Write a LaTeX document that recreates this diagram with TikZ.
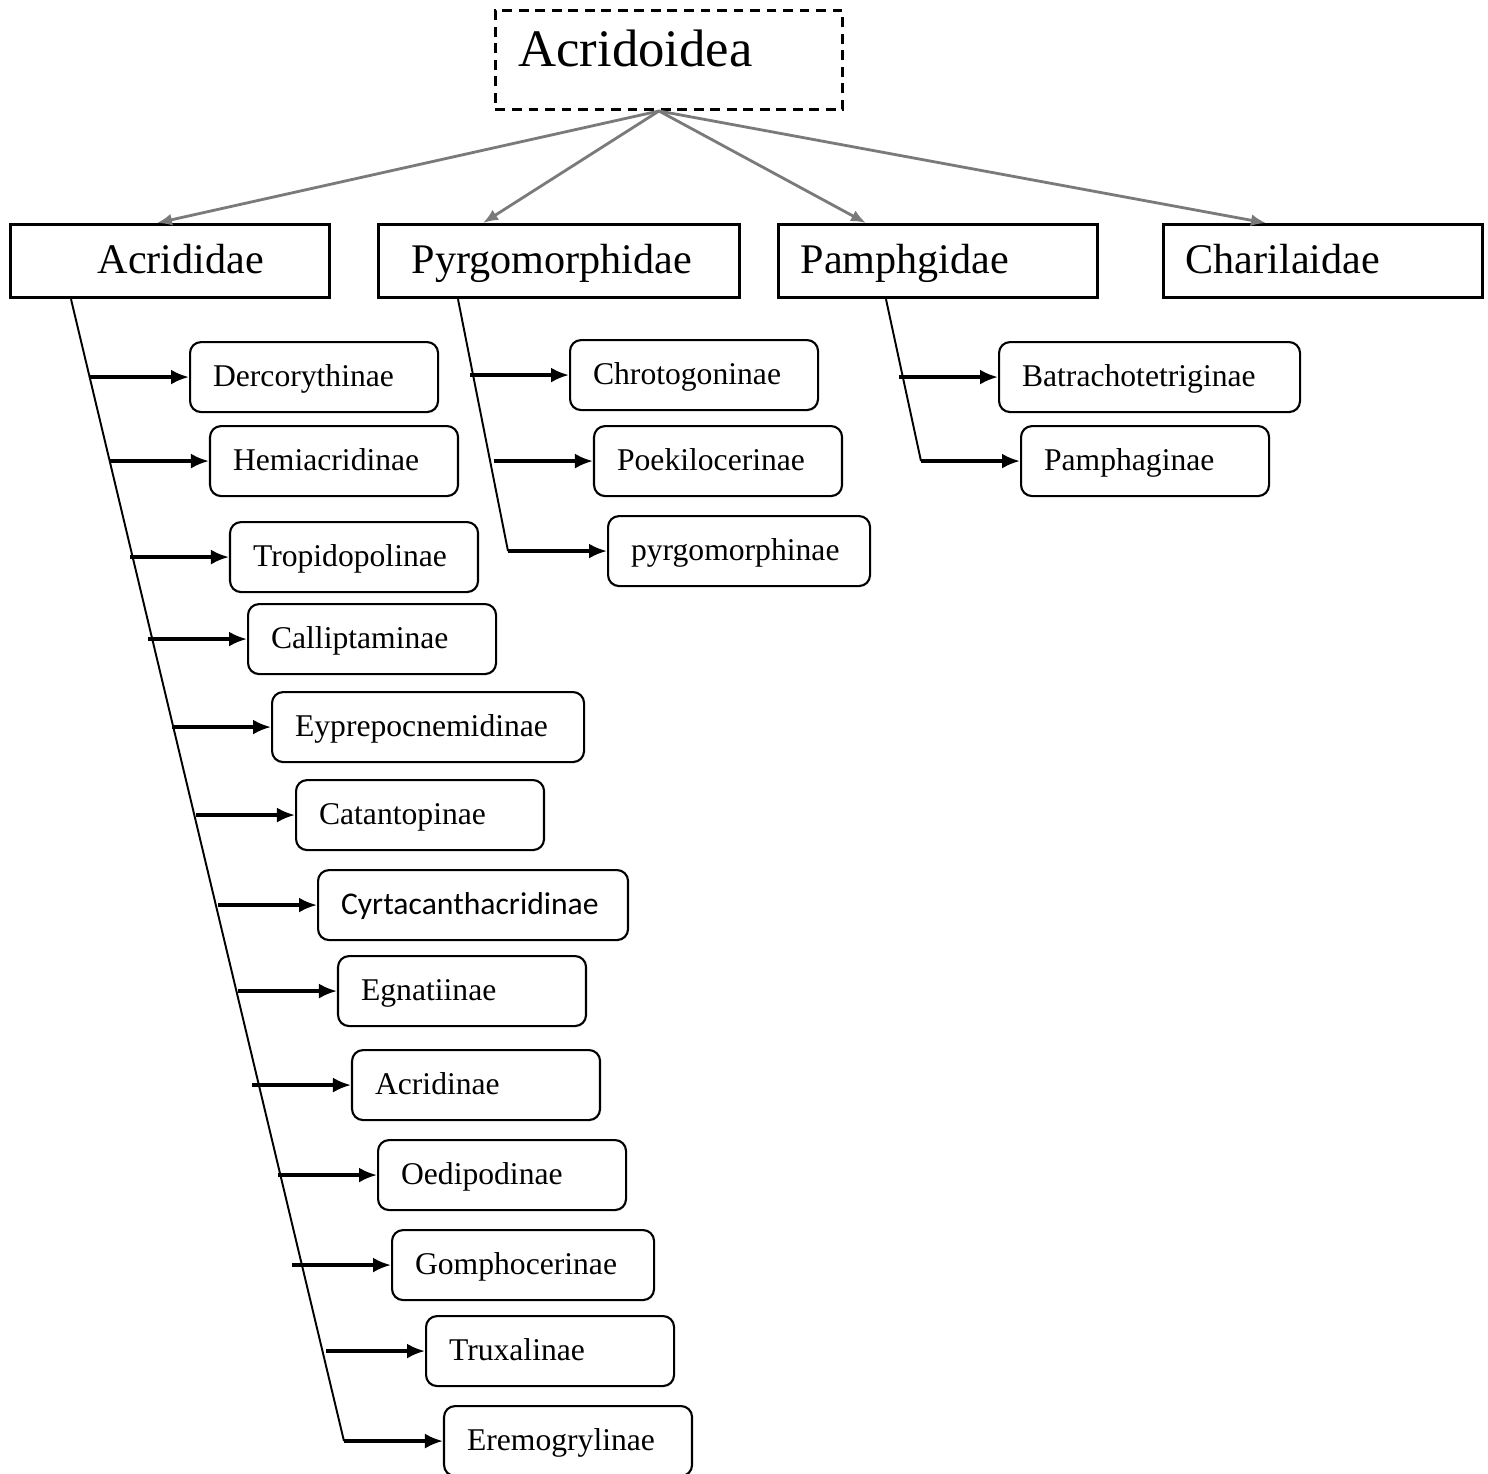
\documentclass[tikz,border=0pt]{standalone}
\usepackage{fontspec}
\setmainfont{Liberation Serif}
\newfontfamily\calfont{Carlito}
\usetikzlibrary{arrows.meta}
\tikzset{
 topbox/.style={draw,dash pattern=on 2.8pt off 1.9pt,line width=0.85pt,anchor=north west,minimum height=0.99cm,inner xsep=0.23cm,text width=3.01cm,text height=0.6em,text depth=0.22em,align=left,font=\fontsize{15}{18}\selectfont},
 fam/.style={draw,line width=0.9pt,anchor=north west,minimum height=0.73cm,inner xsep=0.22cm,text height=0.9em,text depth=0.17em,align=left,font=\fontsize{12}{14}\selectfont},
 sub/.style={draw,line width=0.6pt,rounded corners=1.1mm,anchor=north west,minimum height=0.70cm,inner xsep=0.23cm,text height=0.72em,text depth=0.2em,align=left,font=\fontsize{9}{11}\selectfont},
 famarr/.style={draw=black!52,line width=0.8pt,-{Latex[length=1.5mm,width=1.2mm]}},
 subarr/.style={line width=0.95pt,-{Latex[length=1.8mm,width=1.5mm]}},
 spine/.style={line width=0.55pt}
}
\begin{document}
\begin{tikzpicture}
 \useasboundingbox (0,0) rectangle (14.88,-14.74);
 \node[topbox] (top) at (4.94,-0.09) {Acridoidea};
 \node[fam,text width=2.75cm] (acr) at (0.09,-2.23) {\hspace*{0.65cm}Acrididae};
 \node[fam,text width=3.17cm] (pyr) at (3.77,-2.23) {\hspace*{0.11cm}Pyrgomorphidae};
 \node[fam,text width=2.75cm] (pam) at (7.77,-2.23) {Pamphgidae};
 \node[fam,text width=2.75cm] (cha) at (11.62,-2.23) {Charilaidae};
 \draw[famarr] ([xshift=-0.1cm]top.south) -- ([xshift=1.48cm]acr.north west);
 \draw[famarr] ([xshift=-0.1cm]top.south) -- ([xshift=1.06cm]pyr.north west);
 \draw[famarr] ([xshift=-0.1cm]top.south) -- ([xshift=0.89cm]pam.north west);
 \draw[famarr] ([xshift=-0.1cm]top.south) -- ([xshift=1.04cm]cha.north west);
 % Acrididae
 \foreach \t/\l/\u/\w [count=\i] in {Dercorythinae/1.89/3.41/2.02,Hemiacridinae/2.09/4.25/2.02,Tropidopolinae/2.29/5.21/2.02,
  Calliptaminae/2.47/6.03/2.02,Eyprepocnemidinae/2.71/6.91/2.66,Catantopinae/2.95/7.79/2.02,{\calfont Cyrtacanthacridinae}/3.17/8.69/2.64,
  Egnatiinae/3.37/9.55/2.02,Acridinae/3.51/10.49/2.02,Oedipodinae/3.77/11.39/2.02,Gomphocerinae/3.91/12.29/2.16,
  Truxalinae/4.25/13.15/2.02,Eremogrylinae/4.43/14.05/2.02}{
  \node[sub,text width=\w cm] (a\i) at (\l,-\u) {\t};
  \draw[subarr] ([xshift=-0.99cm]a\i.west) -- (a\i.west);}
 \draw[spine] ([xshift=0.62cm]acr.south west) -- ([xshift=-0.99cm]a13.west);
 % Pyrgomorphidae
 \foreach \t/\l/\u/\w [count=\i] in {Chrotogoninae/5.69/3.39/2.02,Poekilocerinae/5.93/4.25/2.02,pyrgomorphinae/6.07/5.15/2.16}{
  \node[sub,text width=\w cm] (p\i) at (\l,-\u) {\t};
  \draw[subarr] ([xshift=-0.99cm]p\i.west) -- (p\i.west);}
 \draw[spine] ([xshift=0.81cm]pyr.south west) -- ([xshift=-0.99cm]p3.west);
 % Pamphgidae
 \foreach \t/\l/\u/\w [count=\i] in {Batrachotetriginae/9.98/3.41/2.55,Pamphaginae/10.20/4.25/2.02}{
  \node[sub,text width=\w cm] (m\i) at (\l,-\u) {\t};
  \draw[subarr] ([xshift=-0.99cm]m\i.west) -- (m\i.west);}
 \draw[spine] ([xshift=1.09cm]pam.south west) -- ([xshift=-0.99cm]m2.west);
\end{tikzpicture}
\end{document}
